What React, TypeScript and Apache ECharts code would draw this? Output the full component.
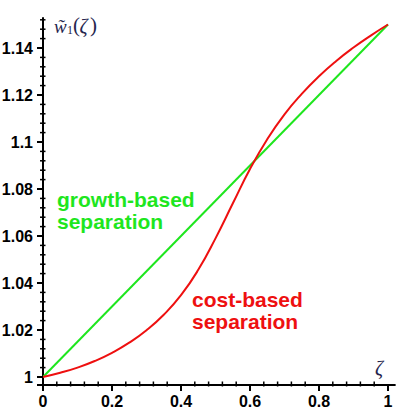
import React, { useEffect, useRef } from "react";
import * as echarts from "echarts";

// zeta values for the cost-based curve
const zeta = [0, 0.05, 0.1, 0.15, 0.2, 0.25, 0.3, 0.35, 0.4, 0.45, 0.5, 0.55, 0.6, 0.65, 0.7, 0.75, 0.8, 0.85, 0.9, 0.95, 1];
const costBased = [1.0, 1.0018, 1.004, 1.0068, 1.0103, 1.0146, 1.0199, 1.0265, 1.0348, 1.0456, 1.059, 1.0738, 1.0885, 1.1012, 1.1118, 1.1205, 1.128, 1.1345, 1.1402, 1.1453, 1.15];
const growthZeta = [0, 1];
const growthBased = [1.0, 1.15];

// axis ticks
const xMajorTicks = [0, 0.2, 0.4, 0.6, 0.8, 1];
const yMajorTicks = [1, 1.02, 1.04, 1.06, 1.08, 1.1, 1.12, 1.14];
const xMinorStep = 0.04;
const yMinorStep = 0.004;
const yMinorMax = 1.152;

// visible axis extent
const X_MIN = 0;
const X_MAX = 1.02;
const Y_MIN = 0.9966;
const Y_MAX = 1.1528;

const GREEN = "#1ee61e";
const RED = "#ee1010";
const INK = "#26264e";

const LEFT = 43;
const XPX = 345;
const YPX = 2350;
const Y_ONE = 377;

const fmt = (v: number) => String(+(+v).toFixed(2));

function stepTicks(start: number, end: number, step: number, skip: number[]) {
  const out: number[] = [];
  const n = Math.round((end - start) / step);
  for (let i = 0; i <= n; i++) {
    const v = +(start + i * step).toFixed(4);
    if (!skip.some((m) => Math.abs(m - v) < 1e-6)) out.push(v);
  }
  return out;
}

export default function App() {
  const ref = useRef<HTMLDivElement>(null);
  useEffect(() => {
    if (!ref.current) return;
    const chart = echarts.init(ref.current, undefined, { renderer: "svg" });
    const labelFont = {
      fontFamily: "Liberation Sans, Arial, sans-serif",
      fontWeight: "bold" as const,
      fontSize: 16,
      color: "#000",
    };
    const xMajorMax = xMajorTicks[xMajorTicks.length - 1];
    const yMajorMax = yMajorTicks[yMajorTicks.length - 1];
    const axisBottomPx = Y_ONE + (1 - Y_MIN) * YPX;
    const offX = axisBottomPx - Y_ONE;
    const grids = [
      { left: LEFT, top: Y_ONE - (Y_MAX - 1) * YPX, width: (X_MAX - X_MIN) * XPX, height: (Y_MAX - Y_MIN) * YPX },
      { left: LEFT, top: Y_ONE - (yMajorMax - 1) * YPX, width: (xMajorMax - xMajorTicks[0]) * XPX, height: (yMajorMax - yMajorTicks[0]) * YPX },
    ].map((g) => ({ ...g, containLabel: false, outerBoundsMode: "none" }));

    const hidden = { axisLine: { show: false, onZero: false }, axisTick: { show: false }, axisLabel: { show: false }, splitLine: { show: false } };

    chart.setOption({
      animation: false,
      backgroundColor: "#fff",
      grid: grids,
      xAxis: [
        {
          gridIndex: 0, type: "value", min: X_MIN, max: X_MAX, position: "bottom",
          ...hidden,
          axisLine: { show: true, onZero: false, lineStyle: { color: "#000", width: 2 } },
        },
        {
          gridIndex: 1, type: "value", min: xMajorTicks[0], max: xMajorMax, interval: 0.2, position: "bottom", offset: offX,
          ...hidden,
          axisLabel: { show: true, formatter: fmt, margin: 9, ...labelFont },
        },
      ],
      yAxis: [
        {
          gridIndex: 0, type: "value", min: Y_MIN, max: Y_MAX, position: "left",
          ...hidden,
          axisLine: { show: true, onZero: false, lineStyle: { color: "#000", width: 2 } },
        },
        {
          gridIndex: 1, type: "value", min: yMajorTicks[0], max: yMajorMax, interval: 0.02, position: "left",
          ...hidden,
          axisLabel: { show: true, formatter: fmt, margin: 10, ...labelFont },
        },
      ],
      series: [
        {
          name: "growth-based separation",
          type: "line",
          xAxisIndex: 0,
          yAxisIndex: 0,
          showSymbol: false,
          lineStyle: { color: GREEN, width: 2 },
          data: growthZeta.map((z, i) => [z, growthBased[i]]),
        },
        {
          name: "cost-based separation",
          type: "line",
          xAxisIndex: 0,
          yAxisIndex: 0,
          showSymbol: false,
          smooth: 0.5,
          lineStyle: { color: RED, width: 2 },
          data: zeta.map((z, i) => [z, costBased[i]]),
        },
      ],
    });

    // tick marks placed through the chart's own axis scales
    const px = (x: number, y: number) => chart.convertToPixel({ gridIndex: 0 }, [x, y]) as number[];
    const tickEls: any[] = [];
    const seg = (x: number, y: number, w: number, h: number) =>
      tickEls.push({ type: "rect", silent: true, z: 100, shape: { x, y, width: w, height: h }, style: { fill: "#000" } });
    xMajorTicks.forEach((v) => { const p = px(v, Y_MIN); seg(p[0] - 1, p[1], 2, 6); });
    stepTicks(0, xMajorMax, xMinorStep, xMajorTicks).forEach((v) => { const p = px(v, Y_MIN); seg(p[0] - 0.75, p[1] - 3.5, 1.5, 5); });
    [Y_MIN, ...yMajorTicks].forEach((v) => { const p = px(X_MIN, v); seg(p[0] - 6, p[1] - 1, 6, 2); });
    stepTicks(1, yMinorMax, yMinorStep, yMajorTicks).forEach((v) => { const p = px(X_MIN, v); seg(p[0] - 3, p[1] - 0.75, 5.5, 1.5); });

    const texts: any[] = [
      { type: "text", x: 54, y: 26, style: { text: "w\u0303", verticalAlign: "middle", fontFamily: "Liberation Serif", fontStyle: "italic", fontSize: 19, fill: INK } },
      { type: "text", x: 67, y: 30, style: { text: "1", verticalAlign: "middle", fontFamily: "Liberation Serif", fontSize: 12, fill: INK } },
      { type: "text", x: 73, y: 25, style: { text: "(", verticalAlign: "middle", fontFamily: "Liberation Serif", fontSize: 21, fill: INK } },
      { type: "text", x: 79.5, y: 26, style: { text: "ζ", verticalAlign: "middle", fontFamily: "Liberation Serif", fontStyle: "italic", fontSize: 20, fill: INK } },
      { type: "text", x: 90, y: 25, style: { text: ")", verticalAlign: "middle", fontFamily: "Liberation Serif", fontSize: 21, fill: INK } },
      { type: "text", x: 375, y: 368, style: { text: "ζ", verticalAlign: "middle", fontFamily: "Liberation Serif", fontStyle: "italic", fontSize: 20, fill: INK } },
      {
        type: "text", x: 57, y: 188.5,
        style: { text: "growth-based\nseparation", verticalAlign: "top", lineHeight: 22, fontFamily: "Liberation Sans, Arial, sans-serif", fontWeight: "bold", fontSize: 21, fill: GREEN },
      },
      {
        type: "text", x: 192, y: 288.5,
        style: { text: "cost-based\nseparation", verticalAlign: "top", lineHeight: 22, fontFamily: "Liberation Sans, Arial, sans-serif", fontWeight: "bold", fontSize: 21, fill: RED },
      },
    ];
    chart.setOption({ graphic: [...tickEls, ...texts] });
    return () => chart.dispose();
  }, []);
  return (
    <div
      ref={ref}
      style={{ position: "fixed", left: 0, top: 0, width: 402, height: 414, background: "#fff" }}
    />
  );
}
